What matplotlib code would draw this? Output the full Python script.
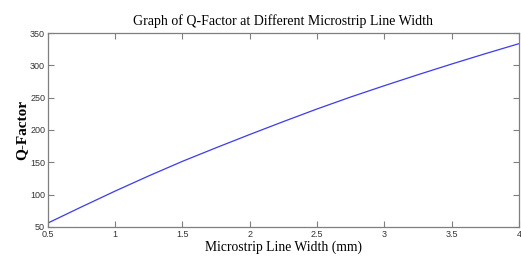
import matplotlib
matplotlib.use("Agg")
import matplotlib.pyplot as plt

# line width (mm) vs Q-factor
width_mm = [0.5, 0.75, 1.0, 1.25, 1.5, 1.75, 2.0, 2.25, 2.5, 2.75, 3.0, 3.25, 3.5, 3.75, 4.0]
q_factor = [56, 81, 105.5, 129, 151.5, 172.5, 193, 213, 232.5, 251, 268.5, 285.5, 302, 318, 333.5]

x_ticks = [0.5, 1, 1.5, 2, 2.5, 3, 3.5, 4]
x_labels = ["0.5", "1", "1.5", "2", "2.5", "3", "3.5", "4"]
y_ticks = [50, 100, 150, 200, 250, 300, 350]

fig = plt.figure(figsize=(5.21, 2.62), dpi=100)
ax = fig.add_axes([0.092, 0.134, 0.904, 0.740])

ax.plot(width_mm, q_factor, color="#3a3aff", lw=0.9)

ax.set_xlim(0.5, 4)
ax.set_ylim(50, 350)
ax.set_xticks(x_ticks)
ax.set_xticklabels(x_labels)
ax.set_yticks(y_ticks)

grey = "#7f7f7f"
for s in ax.spines.values():
    s.set_color(grey)
    s.set_linewidth(0.9)
ax.tick_params(direction="in", top=True, right=True, length=4, width=0.8,
               color=grey, labelsize=6.5, pad=2, labelcolor="#333333")
for lab in ax.get_xticklabels() + ax.get_yticklabels():
    lab.set_family("Liberation Sans")

serif = "Liberation Serif"
ax.set_title("Graph of Q-Factor at Different Microstrip Line Width",
             family=serif, fontsize=10, pad=6)
ax.set_xlabel("Microstrip Line Width (mm)", family=serif, fontsize=9.8, labelpad=1)
ax.set_ylabel("Q-Factor", family=serif, fontsize=11, fontweight="bold", labelpad=1)

fig.savefig("out.png", dpi=100)
